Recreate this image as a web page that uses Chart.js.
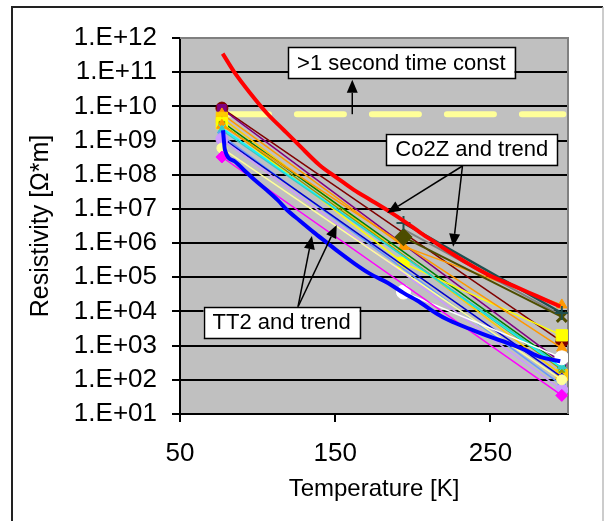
<!DOCTYPE html>
<html>
<head>
<meta charset="utf-8">
<script src="https://cdn.jsdelivr.net/npm/chart.js@4"></script>
<style>
  html, body { margin: 0; padding: 0; background: #fff; }
  canvas { display: block; }
</style>
</head>
<body>
<canvas id="chart" width="605" height="521"></canvas>
<script>
// measurement temperatures [K] for the sample lots
const sampleTemps = [77, 194, 296];

// resistivity [Ohm*m] of each lot at 77 / 194 / 296 K (null = not measured)
const lotMaroon   = [8.9e9, null, 1.3e3];
const lotPurple   = [8.5e9, null, 3.2e2];
const lotOrangeA  = [6.0e9, 8.0e5, 1.55e4];
const lotGold     = [4.6e9, null, 1.4e2];
const lotGreen    = [3.5e9, null, 2.7e2];
const lotYellow   = [3.2e9, 2.6e5, 2.0e3];
const lotOlive    = [3.0e9, null, 2.0e2];
const lotOrangeB  = [2.8e9, null, 8.5e2];
const lotCyan     = [2.3e9, null, 2.2e2];
const lotTeal     = [2.0e9, null, 2.5e2];
const lotLtBlue   = [1.4e9, null, 7.0e1];
const lotBlue     = [1.2e9, null, 1.2e2];
const lotLavender = [1.1e9, null, 5.0e1];
const lotPale     = [6.0e8, null, 1.0e2];
const lotWhite    = [null, 3.7e4, 4.4e2];
const lotMagenta  = [3.3e8, null, 3.5e1];

// Co2Z lots (no 77 K value)
const co2zLotA = [null, 3.9e6, 9.0e3];
const co2zLotB = [null, 1.5e6, 6.9e3];
const co2zLotC = [null, 2.5e6, 7.5e3];

// continuous Co2Z sweep
const co2zTemps = [77.5, 85, 95, 106, 117, 127, 140, 152, 162, 173, 184, 195, 205, 215, 225, 235, 250, 265, 280, 295];
const co2zRes   = [3.5e11, 1.0e11, 2.5e10, 6.3e9, 2.0e9, 7.1e8, 1.9e8, 7.6e7, 3.6e7, 1.8e7, 8.9e6, 4.2e6, 2.0e6, 1.0e6, 5.0e5, 2.6e5, 1.1e5, 5.6e4, 2.8e4, 1.4e4];

// continuous TT2 sweep
const tt2Temps = [77.7, 79, 85, 91, 98, 106, 113, 119, 127, 136, 145, 152, 162, 172, 184, 194, 205, 215, 223, 239, 250, 261, 272, 282, 295];
const tt2Res   = [2.0e9, 5.2e8, 2.5e8, 1.4e8, 7.1e7, 3.5e7, 1.8e7, 9.3e6, 4.6e6, 2.1e6, 1.0e6, 5.6e5, 2.6e5, 1.3e5, 6.8e4, 3.5e4, 1.8e4, 8.9e3, 5.6e3, 2.8e3, 1.8e3, 1.2e3, 7.6e2, 4.7e2, 3.5e2];

// 1 second time constant limit
const timeConstTemps = [77, 297];
const timeConstRes   = [5.9e9, 5.9e9];

const xTickValues = [50, 150, 250];
const yTickValues = [1e1, 1e2, 1e3, 1e4, 1e5, 1e6, 1e7, 1e8, 1e9, 1e10, 1e11, 1e12];

const FONT = 'Arial, "Liberation Sans", sans-serif';
Chart.defaults.font.family = FONT;
Chart.defaults.color = '#000';

const pts = (temps, vals) => temps.map((t, i) => ({ x: t, y: vals[i] }));

const lots = [
  { v: lotMagenta,  c: '#FF00FF', m: 'rectRot', r: 6 },
  { v: lotWhite,    c: '#FFFFFF', m: 'circle', r: 7 },
  { v: lotPale,     c: '#FFFF99', m: 'circle', r: 5 },
  { v: lotLavender, c: '#CC99FF', m: 'circle', r: 6 },
  { v: lotBlue,     c: '#0000CC', m: 'rectRot', r: 4 },
  { v: lotLtBlue,   c: '#6699FF', m: 'rect', r: 5 },
  { v: lotTeal,     c: '#33CCCC', m: 'triangle', r: 5 },
  { v: lotCyan,     c: '#00FFFF', m: 'crossRot', r: 5 },
  { v: lotOrangeB,  c: '#FF9900', m: 'triangle', r: 6 },
  { v: lotOlive,    c: '#999900', m: 'rect', r: 4 },
  { v: lotYellow,   c: '#FFFF00', m: 'rect', r: 8 },
  { v: lotGreen,    c: '#008000', m: 'triangle', r: 5 },
  { v: lotGold,     c: '#FFCC00', m: 'rect', r: 8 },
  { v: lotOrangeA,  c: '#FF9900', m: 'triangle', r: 6 },
  { v: lotPurple,   c: '#800080', m: 'rect', r: 6 },
  { v: lotMaroon,   c: '#800000', m: 'circle', r: 6 }
];

const datasets = [
  { data: pts(co2zTemps, co2zRes), borderColor: '#FF0000', borderWidth: 4, pointRadius: 0,
    cubicInterpolationMode: 'monotone', order: 0 },
  { data: pts(tt2Temps, tt2Res), borderColor: '#0000FF', borderWidth: 4, pointRadius: 0,
    cubicInterpolationMode: 'monotone', order: 1 },
  { data: pts(sampleTemps, co2zLotA), borderColor: '#1F4F4F', borderWidth: 2.5, pointStyle: 'cross',
    pointRadius: 7, pointBorderWidth: 2, order: 2 },
  { data: pts(sampleTemps, co2zLotB), borderColor: '#4D4D00', backgroundColor: '#4D4D00', borderWidth: 2,
    pointStyle: ['rectRot', 'rectRot', 'crossRot'], pointRadius: 7, pointBorderWidth: 3, order: 3 },
  { data: pts(sampleTemps, co2zLotC), borderColor: '#808080', borderWidth: 2, pointRadius: 0, order: 4 }
];
lots.forEach((s, i) => {
  datasets.push({
    data: pts(sampleTemps, s.v), borderColor: s.c, backgroundColor: s.c, borderWidth: 1.5,
    pointStyle: s.m, pointRadius: s.r, pointBorderWidth: 1, order: 5 + i
  });
});
datasets.push({
  data: pts(timeConstTemps, timeConstRes), borderColor: '#FFFF99', borderWidth: 6,
  borderDash: [47, 28], borderCapStyle: 'round', pointRadius: 0, order: 40
});
datasets.forEach(d => { d.spanGaps = true; d.fill = false; });

// text boxes with arrows, placed in data units
const notes = [
  { text: '>1 second time const', at: [192.6, 1.9e11],
    arrows: [[[161, 5.9e9], [161, 6.0e10]]] },
  { text: 'Co2Z and trend', at: [238, 5.6e8],
    arrows: [[[232, 1.8e8], [183.5, 7.6e6]], [[232, 1.8e8], [226, 7.8e5]]] },
  { text: 'TT2 and trend', at: [115.5, 4.8e3],
    arrows: [[[126, 1.35e4], [135, 1.6e6]], [[126, 1.35e4], [151, 3.4e6]]] }
];

const framePlugin = {
  id: 'frame',
  beforeDraw(chart) {
    const { ctx, chartArea: a } = chart;
    ctx.save();
    ctx.fillStyle = '#fff';
    ctx.fillRect(0, 0, chart.width, chart.height);
    ctx.strokeStyle = '#222';
    ctx.lineWidth = 2;
    ctx.beginPath();
    ctx.moveTo(12, chart.height);
    ctx.lineTo(12, 7);
    ctx.lineTo(603, 7);
    ctx.stroke();
    ctx.strokeStyle = '#bbb';
    ctx.lineWidth = 1.5;
    ctx.beginPath();
    ctx.moveTo(603, 7);
    ctx.lineTo(603, chart.height);
    ctx.stroke();
    ctx.fillStyle = '#C0C0C0';
    ctx.fillRect(a.left, a.top, a.right - a.left, a.bottom - a.top);
    ctx.restore();
  },
  beforeDatasetsDraw(chart) {
    const { ctx, chartArea: a } = chart;
    ctx.save();
    ctx.strokeStyle = '#808080';
    ctx.lineWidth = 2;
    ctx.beginPath();
    ctx.moveTo(a.left, a.top);
    ctx.lineTo(a.right, a.top);
    ctx.lineTo(a.right, a.bottom);
    ctx.stroke();
    ctx.restore();
  }
};

const notesPlugin = {
  id: 'notes',
  afterDatasetsDraw(chart) {
    const { ctx, scales: { x, y } } = chart;
    ctx.save();
    ctx.font = '22px ' + FONT;
    ctx.lineWidth = 1.5;
    notes.forEach(n => {
      n.arrows.forEach(([from, to]) => {
        const x0 = x.getPixelForValue(from[0]), y0 = y.getPixelForValue(from[1]);
        const x1 = x.getPixelForValue(to[0]), y1 = y.getPixelForValue(to[1]);
        const ang = Math.atan2(y1 - y0, x1 - x0);
        const hl = 13, hw = 5.5;
        ctx.strokeStyle = '#000';
        ctx.fillStyle = '#000';
        ctx.beginPath();
        ctx.moveTo(x0, y0);
        ctx.lineTo(x1 - hl * Math.cos(ang), y1 - hl * Math.sin(ang));
        ctx.stroke();
        ctx.beginPath();
        ctx.moveTo(x1, y1);
        ctx.lineTo(x1 - hl * Math.cos(ang) + hw * Math.sin(ang), y1 - hl * Math.sin(ang) - hw * Math.cos(ang));
        ctx.lineTo(x1 - hl * Math.cos(ang) - hw * Math.sin(ang), y1 - hl * Math.sin(ang) + hw * Math.cos(ang));
        ctx.closePath();
        ctx.fill();
      });
    });
    notes.forEach(n => {
      const cx = x.getPixelForValue(n.at[0]), cy = y.getPixelForValue(n.at[1]);
      const w = ctx.measureText(n.text).width + 18, h = 31;
      ctx.fillStyle = '#fff';
      ctx.fillRect(cx - w / 2, cy - h / 2, w, h);
      ctx.strokeStyle = '#000';
      ctx.strokeRect(Math.round(cx - w / 2) + 0.5, Math.round(cy - h / 2) + 0.5, Math.round(w), h);
      ctx.fillStyle = '#000';
      ctx.textAlign = 'center';
      ctx.textBaseline = 'middle';
      ctx.fillText(n.text, cx, cy + 1);
    });
    ctx.restore();
  }
};

new Chart(document.getElementById('chart'), {
  type: 'line',
  data: { datasets },
  options: {
    responsive: false,
    animation: false,
    devicePixelRatio: 1,
    layout: { padding: { left: 12, top: 38, right: 37, bottom: 0 } },
    plugins: { legend: { display: false }, tooltip: { enabled: false } },
    scales: {
      x: {
        type: 'linear', min: 50, max: 300,
        afterBuildTicks: s => { s.ticks = xTickValues.map(v => ({ value: v })); },
        afterFit: s => { s.height = 107; },
        grid: { drawOnChartArea: false, color: '#000', lineWidth: 2, tickLength: 8 },
        border: { color: '#000', width: 2 },
        ticks: { color: '#000', font: { size: 26 }, padding: 16, maxRotation: 0, autoSkip: false },
        title: { display: true, text: 'Temperature [K]', color: '#000', font: { size: 24 }, padding: { top: 0, bottom: 17 } }
      },
      y: {
        type: 'logarithmic', min: 10, max: 1e12,
        afterBuildTicks: s => { s.ticks = yTickValues.map(v => ({ value: v })); },
        afterFit: s => { s.width = 168; },
        grid: { color: '#000', lineWidth: 2, tickLength: 8 },
        border: { color: '#000', width: 2 },
        ticks: {
          color: '#000', font: { size: 26 }, padding: 15, autoSkip: false,
          callback: v => '1.E+' + String(Math.round(Math.log10(v))).padStart(2, '0')
        },
        title: { display: true, text: 'Resistivity [Ω*m]', color: '#000', font: { size: 25 }, padding: { top: 14, bottom: 0 } }
      }
    }
  },
  plugins: [framePlugin, notesPlugin]
});
</script>
</body>
</html>
